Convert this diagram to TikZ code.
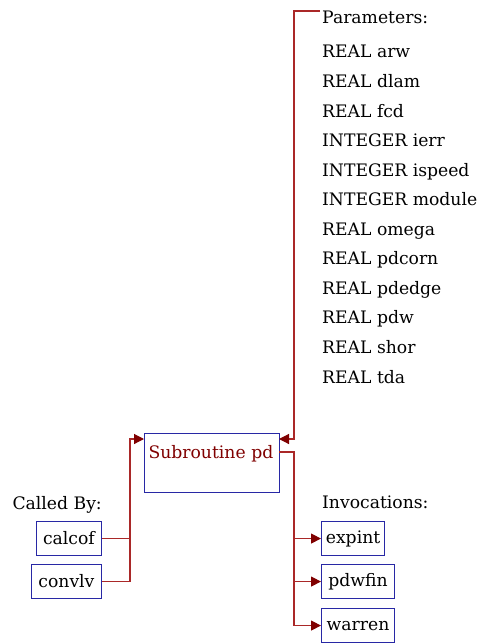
\documentclass[tikz,border=0pt]{standalone}
\usepackage{fontspec}
\setmainfont{DejaVu Serif}
\usetikzlibrary{arrows.meta}

\definecolor{callred}{RGB}{170,40,40}
\definecolor{tipred}{RGB}{128,0,0}
\definecolor{boxblue}{RGB}{40,40,165}

\tikzset{
  txt/.style={font=\fontsize{17.2}{19}\selectfont},
  routine/.style={txt, draw=boxblue, line width=1.1pt, inner sep=0pt,
    minimum height=34pt},
  caption/.style={txt, anchor=base west, inner sep=0pt},
  link/.style={draw=callred, line width=1.2pt},
  call/.style={link, -{Triangle[length=10pt,width=10pt,color=tipred]}}
}

\begin{document}
\begin{tikzpicture}[x=1pt, y=-1pt, line join=miter]
\useasboundingbox (0,0) rectangle (491,643);

% Routine principale
\node[routine, anchor=north west, text width=127pt, inner xsep=4pt,
  text height=25pt, text depth=34pt, text=tipred] (pd) at (144,433)
  {Subroutine pd};

% Chiamanti
\node[caption, anchor=base east] (calledby) at (102,509) {Called By:};
\node[routine, anchor=north east, minimum width=65pt] (calcof) at (102,521) {calcof};
\node[routine, anchor=north east, minimum width=70pt] (convlv) at (102,564) {convlv};

% Chiamate
\node[caption] (invoc) at (322,508) {Invocations:};
\node[routine, anchor=north west, minimum width=63pt] (expint) at (321,521) {expint};
\node[routine, anchor=north west, minimum width=73pt] (pdwfin) at (321,564) {pdwfin};
\node[routine, anchor=north west, minimum width=73pt] (warren) at (321,608) {warren};

% Parametri
\node[caption] (par0) at (322,23) {Parameters:};
\foreach \p [count=\i] in {REAL arw, REAL dlam, REAL fcd, INTEGER ierr,
    INTEGER ispeed, INTEGER module, REAL omega, REAL pdcorn, REAL pdedge,
    REAL pdw, REAL shor, REAL tda}
  \node[caption] (par\i) at (322,{28.4+29.55*\i}) {\p};

% Punti di snodo
\coordinate (jL) at (130,439);
\coordinate (jR) at (294,439);
\coordinate (pdinL) at (144,439);
\coordinate (pdinR) at (279,439);
\coordinate (pdout) at (279,452);
\coordinate (phead) at (320,11);

% Frecce entranti
\draw[link] (calcof.east) -- (calcof.east -| jL);
\draw[call] (convlv.east) -| (jL) -- (pdinL);
\draw[call] (phead) -| (jR) -- (pdinR);

% Frecce uscenti
\draw[link] (pdout) -| (jR |- warren.west);
\foreach \n in {expint,pdwfin,warren}
  \draw[call] (jR |- \n.west) -- (\n.west);

\end{tikzpicture}
\end{document}
